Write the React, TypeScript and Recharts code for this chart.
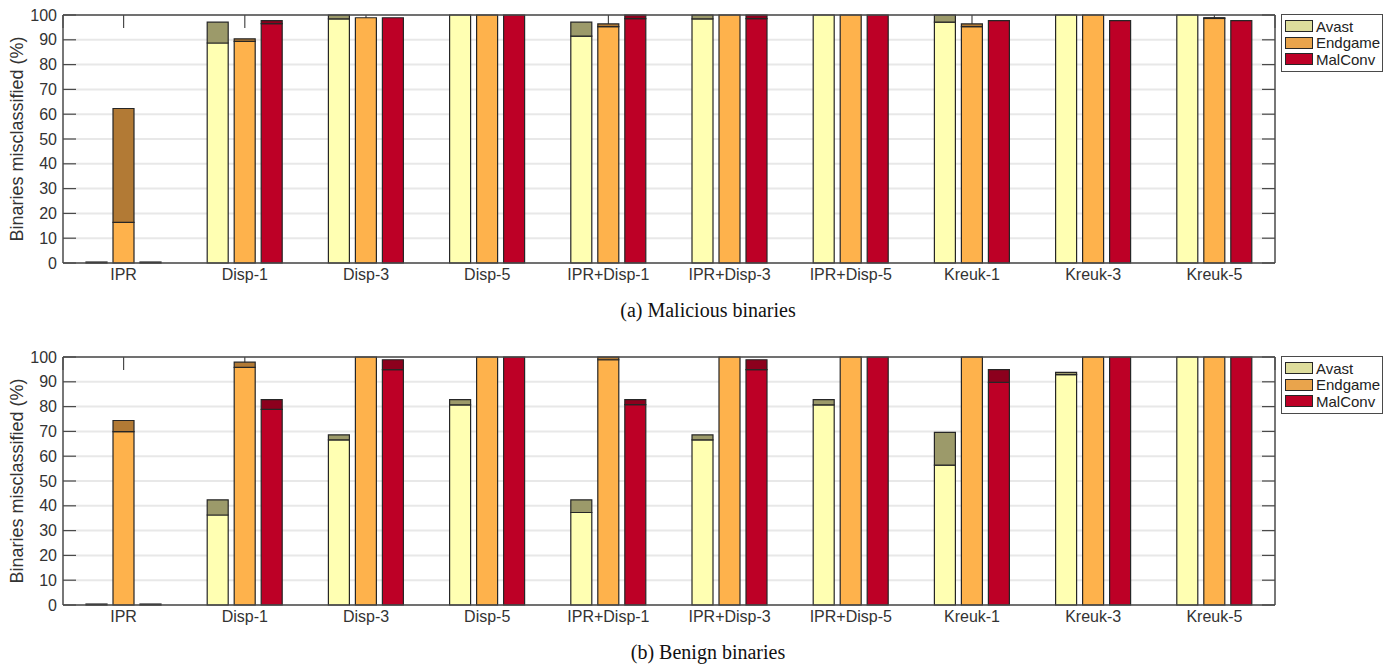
import { BarChart, Bar, XAxis, YAxis, CartesianGrid } from "recharts";

const CATEGORIES = [
  "IPR",
  "Disp-1",
  "Disp-3",
  "Disp-5",
  "IPR+Disp-1",
  "IPR+Disp-3",
  "IPR+Disp-5",
  "Kreuk-1",
  "Kreuk-3",
  "Kreuk-5",
];

const Y_TICKS = [0, 10, 20, 30, 40, 50, 60, 70, 80, 90, 100];

// (a) malicious: lower part of each bar, and the top of the darker part
const MAL_AVAST_LO = [0.4, 88.7, 98.4, 100, 91.5, 98.4, 100, 97.1, 100, 100];
const MAL_AVAST_TOP = [0.4, 97.1, 100, 100, 97.1, 100, 100, 100, 100, 100];
const MAL_ENDGAME_LO = [16.4, 89.4, 98.9, 100, 95.3, 100, 100, 95.3, 100, 98.6];
const MAL_ENDGAME_TOP = [62.3, 90.4, 98.9, 100, 96.4, 100, 100, 96.4, 100, 98.9];
const MAL_MALCONV_LO = [0.4, 96.5, 98.9, 100, 98.5, 98.5, 100, 97.7, 97.7, 97.7];
const MAL_MALCONV_TOP = [0.4, 97.7, 98.9, 100, 100, 100, 100, 97.7, 97.7, 97.7];

// (b) benign
const BEN_AVAST_LO = [0.4, 36.3, 66.6, 80.7, 37.3, 66.6, 80.7, 56.4, 92.9, 100];
const BEN_AVAST_TOP = [0.4, 42.4, 68.6, 82.8, 42.4, 68.6, 82.8, 69.6, 93.8, 100];
const BEN_ENDGAME_LO = [69.9, 95.8, 100, 100, 98.9, 100, 100, 100, 100, 100];
const BEN_ENDGAME_TOP = [74.4, 97.9, 100, 100, 100, 100, 100, 100, 100, 100];
const BEN_MALCONV_LO = [0.4, 78.9, 94.9, 100, 80.8, 94.9, 100, 89.8, 100, 100];
const BEN_MALCONV_TOP = [0.4, 82.8, 98.9, 100, 82.8, 98.9, 100, 94.9, 100, 100];

const LEGEND = [
  { name: "Avast", color: "#dedd9c" },
  { name: "Endgame", color: "#e9a44c" },
  { name: "MalConv", color: "#bd0026" },
];

const COLORS = {
  avastLo: "#ffffb2",
  avastHi: "#9c9a6a",
  endLo: "#feb24c",
  endHi: "#b27a35",
  malLo: "#bd0026",
  malHi: "#8c001d",
};

const FONT = '"Liberation Sans", Arial, Helvetica, sans-serif';
const AXIS = "#4a4a4a";
const EDGE = "#262626";

const CHART_W = 1396;
const CHART_H = 293;
const Y_AXIS_W = 63;
const MARGIN = { top: 15, right: 121, left: 0, bottom: 0 };
const PLOT_LEFT = MARGIN.left + Y_AXIS_W;
const PLOT_RIGHT = CHART_W - MARGIN.right;
const TICK_LEN = 13;

function buildRows(
  aLo: number[], aTop: number[],
  eLo: number[], eTop: number[],
  mLo: number[], mTop: number[],
) {
  return CATEGORIES.map((cat, i) => ({
    cat,
    avastLo: aLo[i],
    avastHi: Math.max(0, aTop[i] - aLo[i]),
    endLo: eLo[i],
    endHi: Math.max(0, eTop[i] - eLo[i]),
    malLo: mLo[i],
    malHi: Math.max(0, mTop[i] - mLo[i]),
  }));
}

const MAL_ROWS = buildRows(MAL_AVAST_LO, MAL_AVAST_TOP, MAL_ENDGAME_LO, MAL_ENDGAME_TOP, MAL_MALCONV_LO, MAL_MALCONV_TOP);
const BEN_ROWS = buildRows(BEN_AVAST_LO, BEN_AVAST_TOP, BEN_ENDGAME_LO, BEN_ENDGAME_TOP, BEN_MALCONV_LO, BEN_MALCONV_TOP);

function Panel({ rows, top, caption }: { rows: any[]; top: number; caption: string }) {
  return (
    <div style={{ position: "absolute", left: 0, top, width: CHART_W, height: 330 }}>
      <BarChart
        width={CHART_W}
        height={CHART_H}
        data={rows}
        margin={MARGIN}
        barSize={21}
        barGap={6}
      >
        <CartesianGrid vertical={false} stroke="#e8e8e8" strokeWidth={2} yAxisId="l" xAxisId="b" />
        {/* inward tick marks, MATLAB style (kept behind the bars) */}
        <CartesianGrid
          horizontal={false}
          y={MARGIN.top}
          height={TICK_LEN}
          stroke={AXIS}
          strokeWidth={1.2}
          yAxisId="l"
          xAxisId="b"
        />
        <CartesianGrid
          vertical={false}
          x={PLOT_LEFT}
          width={TICK_LEN}
          stroke={AXIS}
          strokeWidth={1.2}
          yAxisId="l"
          xAxisId="b"
        />
        <CartesianGrid
          vertical={false}
          x={PLOT_RIGHT - TICK_LEN}
          width={TICK_LEN}
          stroke={AXIS}
          strokeWidth={1.2}
          yAxisId="l"
          xAxisId="b"
        />
        <XAxis
          xAxisId="t"
          orientation="top"
          dataKey="cat"
          mirror
          tick={false}
          tickLine={false}
          stroke={AXIS}
          strokeWidth={1.5}
        />
        <YAxis
          yAxisId="r"
          orientation="right"
          mirror
          type="number"
          domain={[0, 100]}
          ticks={Y_TICKS}
          tick={false}
          tickLine={false}
          stroke={AXIS}
          strokeWidth={1.5}
        />
        <XAxis
          xAxisId="b"
          dataKey="cat"
          height={30}
          tickLine={false}
          tickSize={0}
          tickMargin={6}
          stroke={AXIS}
          strokeWidth={1.5}
          tick={{ fill: "#333", fontSize: 16, fontFamily: FONT }}
          interval={0}
        />
        <YAxis
          yAxisId="l"
          type="number"
          domain={[0, 100]}
          ticks={Y_TICKS}
          width={Y_AXIS_W}
          tickLine={false}
          tickSize={0}
          tickMargin={6}
          stroke={AXIS}
          strokeWidth={1.5}
          tick={{ fill: "#333", fontSize: 16, fontFamily: FONT }}
        />
        <Bar dataKey="avastLo" stackId="a" xAxisId="b" yAxisId="l" fill={COLORS.avastLo} stroke={EDGE} strokeWidth={1.2} isAnimationActive={false} />
        <Bar dataKey="avastHi" stackId="a" xAxisId="b" yAxisId="l" fill={COLORS.avastHi} stroke={EDGE} strokeWidth={1.2} isAnimationActive={false} />
        <Bar dataKey="endLo" stackId="e" xAxisId="b" yAxisId="l" fill={COLORS.endLo} stroke={EDGE} strokeWidth={1.2} isAnimationActive={false} />
        <Bar dataKey="endHi" stackId="e" xAxisId="b" yAxisId="l" fill={COLORS.endHi} stroke={EDGE} strokeWidth={1.2} isAnimationActive={false} />
        <Bar dataKey="malLo" stackId="m" xAxisId="b" yAxisId="l" fill={COLORS.malLo} stroke={EDGE} strokeWidth={1.2} isAnimationActive={false} />
        <Bar dataKey="malHi" stackId="m" xAxisId="b" yAxisId="l" fill={COLORS.malHi} stroke={EDGE} strokeWidth={1.2} isAnimationActive={false} />
      </BarChart>

      {/* y axis title */}
      <div
        style={{
          position: "absolute",
          left: 17,
          top: 139,
          transform: "translate(-50%, -50%) rotate(-90deg)",
          whiteSpace: "nowrap",
          fontFamily: FONT,
          fontSize: 18,
          color: "#333",
        }}
      >
        Binaries misclassified (%)
      </div>

      {/* legend */}
      <div
        style={{
          position: "absolute",
          left: 1281,
          top: 14,
          width: 102,
          border: `1.5px solid ${AXIS}`,
          background: "#fff",
          padding: "3px 0 3px 3px",
          boxSizing: "border-box",
          fontFamily: FONT,
          fontSize: 15,
          color: "#222",
        }}
      >
        {LEGEND.map((item) => (
          <div key={item.name} style={{ display: "flex", alignItems: "center", height: 16.5 }}>
            <span
              style={{
                display: "inline-block",
                width: 28,
                height: 12,
                background: item.color,
                border: `1px solid ${EDGE}`,
                boxSizing: "border-box",
                marginRight: 3,
              }}
            />
            {item.name}
          </div>
        ))}
      </div>

      {/* caption */}
      <div
        style={{
          position: "absolute",
          left: 508,
          width: 400,
          top: 299,
          textAlign: "center",
          fontFamily: '"Liberation Serif", "Times New Roman", serif',
          fontSize: 20,
          color: "#111",
        }}
      >
        {caption}
      </div>
    </div>
  );
}

export default function App() {
  return (
    <div style={{ position: "absolute", left: 0, top: 0, width: 1396, height: 669, background: "#fff" }}>
      <Panel rows={MAL_ROWS} top={0} caption="(a) Malicious binaries" />
      <Panel rows={BEN_ROWS} top={342} caption="(b) Benign binaries" />
    </div>
  );
}
